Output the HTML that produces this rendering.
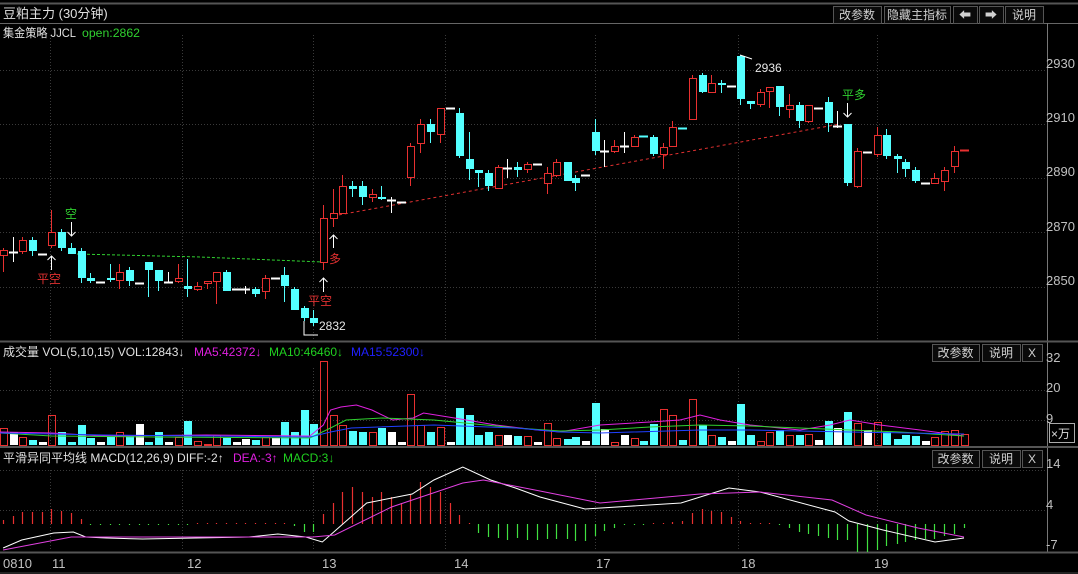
<!DOCTYPE html>
<html><head><meta charset="utf-8">
<style>
html,body{margin:0;padding:0;background:#000;}
body{width:1078px;height:574px;overflow:hidden;position:relative;font-family:"Liberation Sans","Noto Sans CJK SC",sans-serif;}
svg{position:absolute;left:0;top:0;}
text{font-family:"Liberation Sans","Noto Sans CJK SC",sans-serif;}
</style></head><body>
<svg id="s" width="1078" height="574" xmlns="http://www.w3.org/2000/svg">
<rect width="1078" height="574" fill="#000"/>
</svg>
<script>
var S=document.getElementById('s');var NS='http://www.w3.org/2000/svg';
function el(t,a,txt){var e=document.createElementNS(NS,t);for(var k in a)e.setAttribute(k,a[k]);if(txt!==undefined)e.textContent=txt;S.appendChild(e);return e;}
function line(x1,y1,x2,y2,c,w,d){var a={x1:x1,y1:y1,x2:x2,y2:y2,stroke:c,'stroke-width':w||1};if(d)a['stroke-dasharray']=d;return el('line',a);}
function txt(x,y,s,c,fs,anchor){return el('text',{x:x,y:y,fill:c,'font-size':fs||12,'text-anchor':anchor||'start'},s);}
function poly(pts,c,w,d){var a={points:pts.map(function(p){return p.join(',')}).join(' '),fill:'none',stroke:c,'stroke-width':w||1};if(d)a['stroke-dasharray']=d;el('polyline',a);}
function sc(pts){return pts.map(function(p){return [p[0]<540?Math.min(540,p[0]*1.033):p[0],p[1]];});}
var RED='#e83030',CY='#54ffff';
line(0,3.5,1078,3.5,'#555',2);
line(0,23.5,1078,23.5,'#666',1);
line(1047.5,23,1047.5,552,'#777',1);
line(0,341.5,1078,341.5,'#555',2);
line(0,447,1078,447,'#555',2);
line(0,552.5,1078,552.5,'#555',2);
line(0,573,1078,573,'#444',1);
[70.5,124.5,178.5,232.5,287.5].forEach(function(y){line(0,y,1047,y,'#3a3a3a',1,'1,2');});
[50.5,182.5,313.5,445.5,595.5,738.5,877.5].forEach(function(x){line(x,35,x,340,'#3a3a3a',1,'1,2');line(x,368,x,445,'#3a3a3a',1,'1,2');line(x,470,x,551,'#3a3a3a',1,'1,2');});
[390,420].forEach(function(y){line(0,y+.5,1047,y+.5,'#3a3a3a',1,'1,2');});
[470,510].forEach(function(y){line(0,y+.5,1047,y+.5,'#3a3a3a',1,'1,2');});
[['2930',68],['2910',122],['2890',176],['2870',231],['2850',285]].forEach(function(a){txt(1046,a[1],a[0],'#c0c0c0',13);});
txt(1046,362,'32','#c0c0c0',13);txt(1046,392,'20','#c0c0c0',13);txt(1046,423,'9','#c0c0c0',13);
el('rect',{x:1049.5,y:423.5,width:25,height:19,fill:'none',stroke:'#aaa'});txt(1051,438,'×万','#ddd',12);
txt(1046,468,'14','#c0c0c0',13);txt(1046,509,'4','#c0c0c0',13);txt(1046,549,'-7','#c0c0c0',13);
txt(3,18,'豆粕主力 (30分钟)','#e0e0e0',13);
el('text',{x:3,y:37,fill:'#e0e0e0','font-size':12,textLength:73,lengthAdjust:'spacingAndGlyphs'},'集金策略 JJCL');
el('text',{x:82,y:37,fill:'#30d030','font-size':12,textLength:58,lengthAdjust:'spacingAndGlyphs'},'open:2862');
function btn(x,w,s,y,h){el('rect',{x:x+.5,y:y+.5,width:w,height:h,fill:'#0a0a0a',stroke:'#555'});txt(x+w/2,y+h-4,s,'#d0d0d0',12,'middle');}
btn(833,48,'改参数',6,17);btn(884,66,'隐藏主指标',6,17);btn(953,24,'⬅',6,17);btn(979,24,'➡',6,17);btn(1005,38,'说明',6,17);
btn(932,47,'改参数',344,17);btn(982,38,'说明',344,17);btn(1022,20,'X',344,17);
btn(932,47,'改参数',450,17);btn(982,38,'说明',450,17);btn(1022,20,'X',450,17);
txt(3,356,'成交量 VOL(5,10,15) VOL:12843↓','#e0e0e0',12);
txt(194,356,'MA5:42372↓','#e020e0',12);txt(269,356,'MA10:46460↓','#20d020',12);txt(351,356,'MA15:52300↓','#2020ff',12);
txt(3,462,'平滑异同平均线 MACD(12,26,9) DIFF:-2↑','#e0e0e0',12);
txt(233,462,'DEA:-3↑','#e020e0',12);txt(283,462,'MACD:3↓','#20d020',12);
[['0810',3],['11',52],['12',187],['13',322],['14',454],['17',596],['18',741],['19',874]].forEach(function(a){txt(a[1],568,a[0],'#c0c0c0',13);});
var C=[
['r',3,250,255,248,272],['w',13,252,252,237,262],['r',22,240,251,237,254],['c',32,240,251,237,256],['w',42,254,254],
['r',51,232,245,210,248],['c',61,232,248,229,251],['c',71,248,254,243,254],['c',81,251,278,248,283],['c',90,278,281,273,283],
['w',100,282,282],['c',110,278,280,264,282],['r',119,272,280,264,289],['c',129,270,281,267,286],['w',139,283,283],
['c',148,262,270,262,297],['c',158,270,281,270,291],['w',168,282,282,272,282],['r',178,278,281,264,283],['c',187,286,289,259,297],
['r',197,286,289,282,291],['r',207,281,283,281,289],['r',216,272,281,272,304],['c',226,272,291,270,291],['w',236,289,289],
['w',245,289,289,286,294],['c',255,289,294,287,297],['r',265,278,291,275,299],['w',275,278,278],['c',284,275,286,267,302],
['c',294,289,310,287,310],['c',304,308,318,306,321],['c',313,318,323,310,326],['r',323,218,262,205,270],['r',333,213,218,189,227],
['r',342,186,213,175,213],['c',352,186,189,181,197],['c',362,186,197,181,205],['r',372,194,197,189,202],['c',381,197,199,186,200],
['w',391,200,200,197,213],['w',401,202,202],['r',410,146,177,143,186],['r',420,124,143,119,153],['c',430,124,132,119,143],
['r',440,108,134,108,143],['w',450,108,108],['c',459,113,156,108,158],['c',469,159,169,132,180],['c',478,170,173,170,187],
['c',488,173,186,170,191],['r',498,167,188,165,188],['w',507,168,168,159,178],['c',517,167,170,162,177],['r',527,164,169,162,173],
['w',537,164,164],['r',547,173,183,167,194],['r',556,162,175,159,177],['c',567,162,181,162,181],['c',575,178,183,175,191],
['w',585,175,175],['c',595,132,151,119,155],['w',604,151,151,140,167],['r',614,146,151,140,153],['w',624,146,146,132,153],
['r',634,137,146,135,147],['cd',643,136,136],['c',653,137,154,135,156],['r',663,147,154,143,169],['r',672,127,146,121,147],
['cd',682,128,128],['r',692,78,119,75,120],['c',702,75,92,73,93],['r',711,83,92,75,93],['c',721,83,85,80,93],
['w',731,86,86],['c',740,56,99,55,105],['c',750,101,104,101,109],['r',760,92,104,89,107],['r',769,87,91,87,108],
['c',779,86,107,86,116],['r',789,105,109,94,118],['c',799,105,121,102,128],['r',808,105,121,105,123],['w',818,108,108],
['c',828,102,123,97,132],['w',837,126,126,111,128],['c',847,124,183,124,186],['r',857,151,186,148,188],['w',867,152,152],
['r',877,135,154,127,157],['c',886,135,156,129,159],['c',897,156,159,154,173],['c',905,162,169,159,177],['c',915,170,181,167,183],
['w',925,183,183],['r',934,178,183,173,183],['r',944,170,181,167,191],['r',954,151,166,146,173],['rd',964,150,150]];
poly([[77,254],[200,257],[322,262]],'#30d030',1,'3,2');
poly([[333,216],[840,124]],'#e03030',1,'3,3');
C.forEach(function(c){var t=c[0],x=c[1],bt=c[2],bb=c[3],wt=c[4],wb=c[5];
 var col=t=='r'||t=='rd'?RED:(t=='w'?'#fff':CY);
 if(wt!==undefined)line(x+.5,wt,x+.5,wb,col,1);
 if(bb-bt<1.5){line(x-4,bt+.5,x+5,bt+.5,col,2);}
 else if(t=='r'){el('rect',{x:x-2.5,y:bt+.5,width:7,height:bb-bt,fill:'#000',stroke:col});}
 else el('rect',{x:x-3,y:bt,width:8,height:bb-bt,fill:col});
});
function arrow(x,y1,y2){line(x+.5,y1,x+.5,y2,'#fff',1);var d=y2>y1?-4:4;poly([[x-3.5,y2+d],[x+.5,y2],[x+4.5,y2+d]],'#fff',1);}
txt(65,218,'空','#30d030',12);arrow(71,222,236);
arrow(51,270,256);txt(37,283,'平空','#e03030',12);
arrow(323,292,278);txt(308,305,'平空','#e03030',12);
arrow(333,248,235);txt(329,263,'多','#e03030',12);
txt(842,99,'平多','#30d030',12);arrow(847,103,117);
poly([[304,321],[304,335],[318,335]],'#fff',1);txt(319,330,'2832','#e8e8e8',12);
poly([[740,55],[752,59]],'#fff',1);txt(755,72,'2936','#e8e8e8',12);
// volume
var VL={3:428,12:432,22:437,31:440,48:415,58:432,68:442,78:425,87:438,106:435,116:432,125:435,138:424,152:432,162:442,172:437,181:421,191:441,200:444,210:435,220:438,236:439,245:440,255:437,262:438,275:422,284:432,294:410,304:424,313:361,323:415,332:425,342:431,352:432,361:432,372:428,381:432,396:394,405:425,415:432,425:427,445:408,455:415,464:435,474:432,483:435,494:435,503:436,513:436};
var VR={547:423,556:438,567:439,575:437,585:441,595:403,604:429,614:442,624:435,634:438,643:441,653:424,663:409,672:415,682:440,692:399,702:425,711:435,721:437,731:441,740:404,750:435,760:441,769:432,779:430,789:435,799:435,808:434,818:440,828:421,837:428,847:412,857:423,867:430,877:422,886:432,897:439,905:435,915:436,925:441,934:437,944:431,954:430,964:434};
var lk=Object.keys(VL).map(Number);
function vtop(x){if(x>=540)return VR[x]||441;var xr=x/1.033,b=null,bd=99;lk.forEach(function(k){var d=Math.abs(k-xr);if(d<bd){bd=d;b=k;}});return bd<5?VL[b]:442;}
C.forEach(function(c){var t=c[0],x=c[1],top=vtop(x);var col=t=='r'||t=='rd'?RED:(t=='w'?'#fff':CY);
 if(t=='r'||t=='rd')el('rect',{x:x-2.5,y:top+.5,width:7,height:445-top,fill:'none',stroke:col});
 else el('rect',{x:x-3,y:top,width:8,height:445-top,fill:col});});
poly(sc([[0,432],[50,433],[100,436],[200,435],[300,436],[313,425],[320,410],[330,407],[345,405],[360,410],[380,420],[400,418],[410,413],[440,418],[480,425],[520,430],[560,432],[600,425],[650,422],[680,420],[700,415],[720,420],[750,425],[800,430],[830,425],[850,420],[880,425],[920,430],[964,436]]),'#e020e0',1);
poly(sc([[0,433],[50,436],[150,437],[300,438],[320,428],[335,420],[370,418],[420,420],[460,424],[500,428],[560,431],[600,430],[650,427],[700,425],[750,426],[800,428],[850,430],[900,432],[964,436]]),'#30d030',1);
poly(sc([[0,433],[100,435],[200,436],[300,437],[320,432],[340,428],[420,425],[500,428],[560,432],[600,433],[700,430],[750,430],[850,432],[964,434]]),'#2040ff',1);
var Z=524;
var H={3:4,13:8,22:12,32:12,42:12,51:15,61:13,71:11,81:5,90:-1,100:-1,110:-1,119:-1,129:-1,139:-1,148:-1,158:-1,168:-1,178:-1,187:-1,197:1,207:1,216:1,226:1,236:1,245:1,255:1,265:1,275:1,284:1,294:-2,304:-8,313:-8,323:10,333:21,342:32,352:37,362:32,372:27,381:32,391:27,401:21,410:29,420:42,430:37,440:32,450:21,459:9,469:1,478:-9,488:-13,498:-14,507:-16,517:-14,527:-16,537:-16,547:-15,556:-15,567:-15,575:-17,585:-17,595:-12,604:-7,614:-4,624:-1,634:-1,643:-1,653:1,663:1,672:2,682:3,692:11,702:15,711:13,721:12,731:7,740:3,750:1,760:1,769:1,779:-1,789:-4,799:-8,808:-10,818:-12,828:-14,837:-16,847:-16,857:-28,867:-28,877:-26,886:-22,897:-20,905:-18,915:-16,925:-15,934:-15,944:-12,954:-10,964:-4};
C.forEach(function(c){var x=c[1],h=H[x]||0;if(h>0)line(x+.5,Z-h,x+.5,Z,RED,1.2);else if(h<0)line(x+.5,Z,x+.5,Z-h,'#40e040',1.2);});
poly(sc([[3,548],[21,540],[52,533],[71,532],[83,537],[103,538],[138,539],[241,537],[269,534],[296,537],[312,542],[322,533],[355,503],[399,494],[420,480],[448,467],[475,480],[499,488],[540,497]]).concat([[585,509],[681,503],[729,488],[760,492],[835,512],[849,521],[883,530],[935,542],[964,538]]),'#fff',1);
poly(sc([[3,550],[69,537],[303,537],[324,535],[379,507],[448,483],[468,480],[540,491]]).concat([[600,503],[700,494],[760,492],[832,500],[866,515],[918,528],[964,537]]),'#e040e0',1);
</script>
</body></html>
